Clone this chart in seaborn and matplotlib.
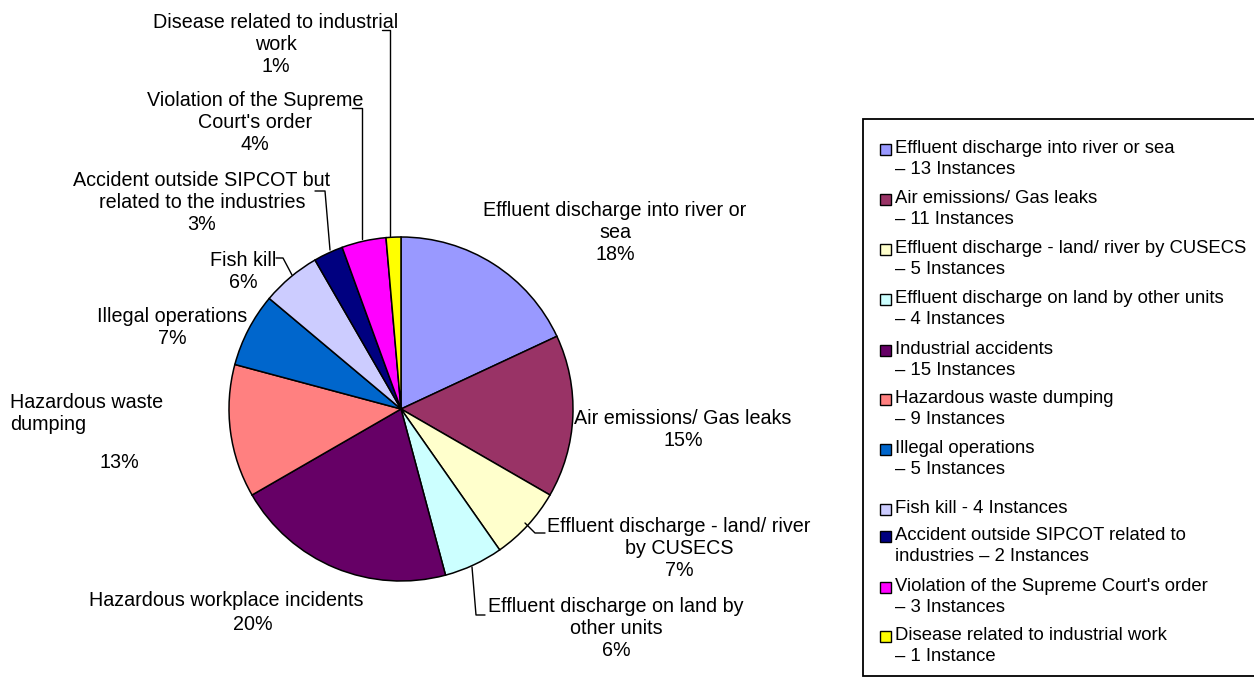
import seaborn as sns
import matplotlib.pyplot as plt
from matplotlib.patches import Rectangle

sns.set_theme(style="white")
plt.rcParams['font.family'] = ['Liberation Sans', 'DejaVu Sans']
plt.rcParams['text.color'] = 'black'

# data
instances = [13, 11, 5, 4, 15, 9, 5, 4, 2, 3, 1]
pct = [18, 15, 7, 6, 20, 13, 7, 6, 3, 4, 1]
pie_names = ['Effluent discharge into river or\nsea', 'Air emissions/ Gas leaks',
             'Effluent discharge - land/ river\nby CUSECS', 'Effluent discharge on land by\nother units',
             'Hazardous workplace incidents', 'Hazardous waste\ndumping', 'Illegal operations',
             'Fish kill', 'Accident outside SIPCOT but\nrelated to the industries',
             'Violation of the Supreme\nCourt\'s order', 'Disease related to industrial\nwork']
legend_names = ['Effluent discharge into river or sea\n– 13 Instances',
                'Air emissions/ Gas leaks\n– 11 Instances',
                'Effluent discharge - land/ river by CUSECS\n– 5 Instances',
                'Effluent discharge on land by other units\n– 4 Instances',
                'Industrial accidents\n– 15 Instances',
                'Hazardous waste dumping\n– 9 Instances',
                'Illegal operations\n– 5 Instances',
                'Fish kill - 4 Instances',
                'Accident outside SIPCOT related to\nindustries – 2 Instances',
                'Violation of the Supreme Court\'s order\n– 3 Instances',
                'Disease related to industrial work\n– 1 Instance']
colors = ['#9999FF', '#993366', '#FFFFCC', '#CCFFFF', '#660066', '#FF8080',
          '#0066CC', '#CCCCFF', '#000080', '#FF00FF', '#FFFF00']

# layout (pixels)
label_pos = [(615, 232), (683, 429), (679, 548), (616, 628), None, None,
             (172, 328), (243, 271), (202, 203), (255, 123), (276, 44)]
leaders = {2: [(525, 523), (535, 533), (545, 533)],
           3: [(472, 567), (476, 615), (485, 615)],
           7: [(292, 275), (283, 258), (276, 258)],
           8: [(330, 250), (325, 191), (315, 191)],
           9: [(362, 239), (362, 108), (352, 108)],
           10: [(390, 236), (390, 30), (382, 30)]}
legend_y = [150, 200, 250, 300, 351, 400, 450, 510, 537, 588, 637]

fig = plt.figure(figsize=(12.54, 6.78), dpi=100)
ax = fig.add_axes([0, 0, 1, 1])
ax.pie(instances, colors=colors, startangle=-90, counterclock=True,
       center=(401, 409), radius=172, frame=True,
       wedgeprops=dict(edgecolor='black', linewidth=1.1))
ax.set_xlim(0, 1254)
ax.set_ylim(678, 0)
ax.axis('off')

fs = 14.2
for i, name in enumerate(pie_names):
    if label_pos[i] is None:
        continue
    x, y = label_pos[i]
    ax.text(x, y, f'{name}\n{pct[i]}%', ha='center', va='center',
            fontsize=fs, linespacing=1.2)
# these two labels sit apart from their percentages
ax.text(226, 600, pie_names[4], ha='center', va='center', fontsize=fs)
ax.text(253, 625, f'{pct[4]}%', ha='center', va='center', fontsize=fs)
ax.text(10, 413, pie_names[5], ha='left', va='center', fontsize=fs, linespacing=1.2)
ax.text(119, 462, f'{pct[5]}%', ha='center', va='center', fontsize=fs)

for pts in leaders.values():
    xs, ys = zip(*pts)
    ax.plot(xs, ys, color='black', lw=1)

# legend box
lfs = 13.3
ax.add_patch(Rectangle((863, 119), 420, 557, facecolor='white', edgecolor='black', lw=1.3))
for i, name in enumerate(legend_names):
    y = legend_y[i]
    ax.add_patch(Rectangle((880, y - 6), 11, 11, facecolor=colors[i], edgecolor='black', lw=1))
    ax.text(895, y - 10, name, ha='left', va='top', fontsize=lfs, linespacing=1.3)

fig.savefig('out.png', dpi=100)
